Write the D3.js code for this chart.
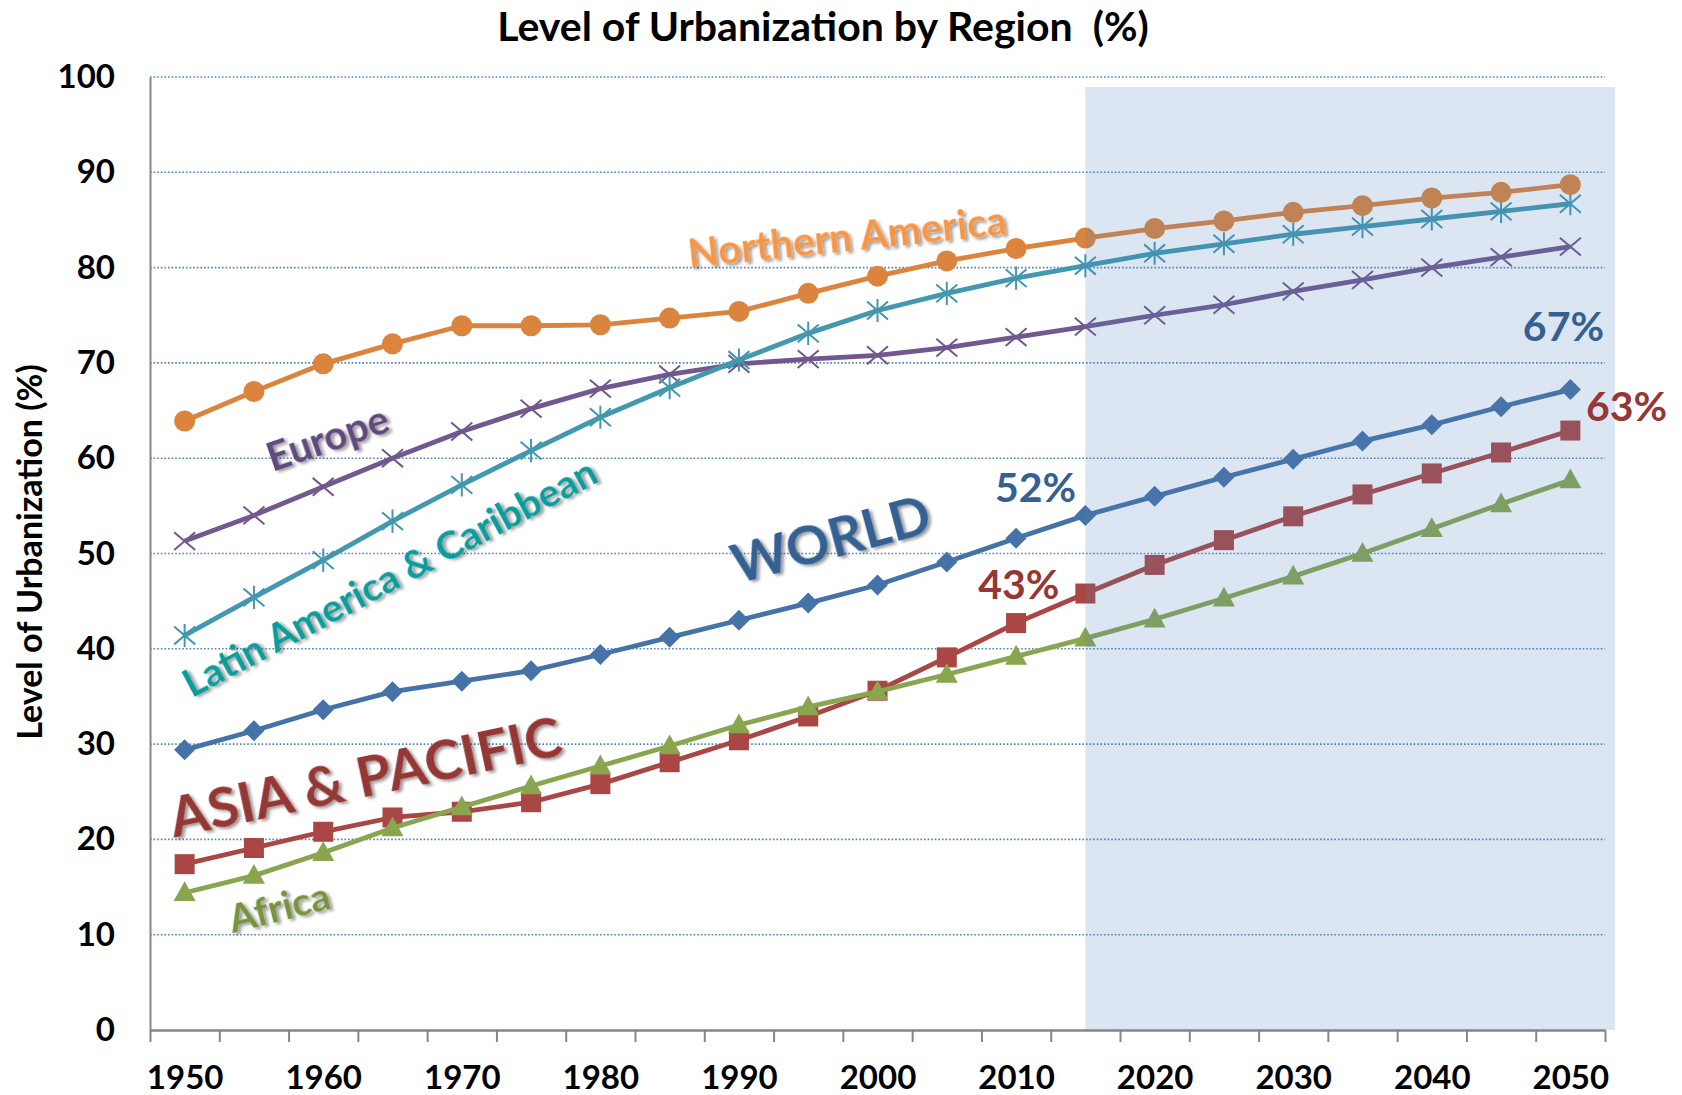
<!DOCTYPE html>
<html lang="en">
<head>
<meta charset="utf-8">
<title>Level of Urbanization by Region</title>
<script src="https://cdn.jsdelivr.net/npm/d3@7/dist/d3.min.js"></script>
<style>
  body { margin: 0; background: #fff; }
  text { font-family: Lato, "Open Sans", sans-serif; font-weight: bold; }
</style>
</head>
<body>
<script>
// categories and series (percent urban)
var years = [1950, 1955, 1960, 1965, 1970, 1975, 1980, 1985, 1990, 1995, 2000,
             2005, 2010, 2015, 2020, 2025, 2030, 2035, 2040, 2045, 2050];
var yearLabels = [1950, 1960, 1970, 1980, 1990, 2000, 2010, 2020, 2030, 2040, 2050];
var yTicks = [0, 10, 20, 30, 40, 50, 60, 70, 80, 90, 100];

var world   = [29.4, 31.4, 33.6, 35.5, 36.6, 37.7, 39.4, 41.2, 43.0, 44.8, 46.7,
               49.1, 51.6, 54.0, 56.0, 58.0, 59.9, 61.8, 63.5, 65.4, 67.2];
var asia    = [17.4, 19.1, 20.8, 22.3, 22.9, 23.9, 25.8, 28.1, 30.4, 32.9, 35.6,
               39.1, 42.7, 45.8, 48.8, 51.4, 53.9, 56.2, 58.4, 60.6, 62.9];
var africa  = [14.4, 16.2, 18.6, 21.2, 23.4, 25.6, 27.7, 29.8, 32.0, 33.9, 35.5,
               37.3, 39.2, 41.1, 43.1, 45.3, 47.6, 50.0, 52.6, 55.2, 57.7];
var europe  = [51.3, 54.0, 57.0, 60.0, 62.8, 65.2, 67.3, 68.8, 69.9, 70.4, 70.8,
               71.6, 72.7, 73.8, 75.0, 76.1, 77.5, 78.7, 80.0, 81.1, 82.2];
var latin   = [41.4, 45.4, 49.3, 53.4, 57.2, 60.8, 64.3, 67.4, 70.3, 73.1, 75.5,
               77.3, 78.9, 80.2, 81.5, 82.5, 83.5, 84.3, 85.1, 85.9, 86.7];
var northAm = [63.9, 67.0, 69.9, 72.0, 73.9, 73.9, 74.0, 74.7, 75.4, 77.3, 79.1,
               80.7, 82.0, 83.1, 84.1, 84.9, 85.8, 86.5, 87.3, 87.9, 88.7];

var w = 1682, h = 1095;
var plotLeft = 150, plotRight = 1605, plotTop = 77, plotBottom = 1030;

var svg = d3.select("body").append("svg")
    .attr("width", w).attr("height", h);

var defs = svg.append("defs");
defs.append("filter").attr("id", "shadow")
    .attr("x", "-10%").attr("y", "-30%").attr("width", "130%").attr("height", "160%")
  .append("feDropShadow")
    .attr("dx", 2.5).attr("dy", 2.5).attr("stdDeviation", 1.8)
    .attr("flood-color", "#000").attr("flood-opacity", 0.4);

// category axis: each year gets a 5-year slot, ticks between slots
var x = d3.scaleLinear().domain([1947.5, 2052.5]).range([plotLeft, plotRight]);
var y = d3.scaleLinear().domain([0, 100]).range([plotBottom, plotTop]);

// title
svg.append("text")
    .attr("x", 823).attr("y", 41)
    .attr("text-anchor", "middle")
    .style("font-size", "41px")
    .style("white-space", "pre")
    .text("Level of Urbanization by Region  (%)");

// y axis title
svg.append("text")
    .attr("transform", "translate(42,552) rotate(-90)")
    .attr("text-anchor", "middle")
    .style("font-size", "34px")
    .text("Level of Urbanization (%)");

// gridlines
svg.append("g").selectAll("line")
    .data(yTicks.filter(function(d) { return d > 0; }))
    .enter().append("line")
    .attr("x1", plotLeft).attr("x2", plotRight)
    .attr("y1", function(d) { return y(d); })
    .attr("y2", function(d) { return y(d); })
    .attr("stroke", "#4f81bd")
    .attr("stroke-width", 1.6)
    .attr("stroke-dasharray", "1.6,2");

// y axis
var yAxis = svg.append("g")
    .attr("transform", "translate(" + plotLeft + ",0)")
    .call(d3.axisLeft(y).tickValues(yTicks).tickSize(0).tickPadding(35));
yAxis.select(".domain").attr("stroke", "#868686").attr("stroke-width", 2);
yAxis.selectAll("text").style("font-size", "33px").attr("fill", "#000")
    .style("font-family", "Lato, sans-serif");

// x axis: tick marks at slot edges
var edges = years.map(function(d) { return d - 2.5; }).concat([2052.5]);
var xTickAxis = svg.append("g")
    .attr("transform", "translate(0," + plotBottom + ")")
    .call(d3.axisBottom(x).tickValues(edges).tickSize(12).tickSizeOuter(0).tickFormat(""));
xTickAxis.select(".domain").attr("stroke", "#868686").attr("stroke-width", 2.5);
xTickAxis.selectAll(".tick line").attr("stroke", "#868686").attr("stroke-width", 2);

var xLabelAxis = svg.append("g")
    .attr("transform", "translate(0," + plotBottom + ")")
    .call(d3.axisBottom(x).tickValues(yearLabels).tickSize(0).tickPadding(36)
          .tickFormat(d3.format("d")));
xLabelAxis.select(".domain").remove();
xLabelAxis.selectAll("text").style("font-size", "33px").attr("fill", "#000")
    .style("font-family", "Lato, sans-serif");

// markers
function diamond(s) {
  return "M0," + (-s) + "L" + s + ",0L0," + s + "L" + (-s) + ",0Z";
}
function square(s) {
  return "M" + (-s) + "," + (-s) + "H" + s + "V" + s + "H" + (-s) + "Z";
}
function triangle(s) {
  return "M0," + (-s * 1.05) + "L" + s + "," + (s * 0.75) + "L" + (-s) + "," + (s * 0.75) + "Z";
}
function cross(s) {
  return "M" + (-s) + "," + (-s * 0.85) + "L" + s + "," + (s * 0.85) +
         "M" + (-s) + "," + (s * 0.85) + "L" + s + "," + (-s * 0.85);
}
function star(s) {
  return cross(s) + "M0," + (-s * 1.1) + "L0," + (s * 1.1);
}

var series = [
  { name: "World",   values: world,   color: "#4572a7", marker: function() { return diamond(10.5); }, fill: true },
  { name: "Asia",    values: asia,    color: "#aa4643", marker: function() { return square(10); }, fill: true },
  { name: "Africa",  values: africa,  color: "#89a54e", marker: function() { return triangle(11); }, fill: true },
  { name: "Europe",  values: europe,  color: "#71588f", marker: function() { return cross(10.5); }, fill: false },
  { name: "Latin",   values: latin,   color: "#4198af", marker: function() { return star(10.5); }, fill: false },
  { name: "NorthAm", values: northAm, color: "#db843d", marker: null, fill: true }
];

var line = d3.line()
    .x(function(d, i) { return x(years[i]); })
    .y(function(d) { return y(d); });

series.forEach(function(s) {
  var g = svg.append("g");
  g.append("path")
      .attr("d", line(s.values))
      .attr("fill", "none")
      .attr("stroke", s.color)
      .attr("stroke-width", 4.8)
      .attr("stroke-linejoin", "round");
  var pts = g.selectAll(".pt").data(s.values).enter();
  if (s.marker === null) {
    pts.append("circle")
        .attr("cx", function(d, i) { return x(years[i]); })
        .attr("cy", function(d) { return y(d); })
        .attr("r", 10.5)
        .attr("fill", s.color);
  } else {
    pts.append("path")
        .attr("transform", function(d, i) { return "translate(" + x(years[i]) + "," + y(d) + ")"; })
        .attr("d", s.marker)
        .attr("fill", s.fill ? s.color : "none")
        .attr("stroke", s.color)
        .attr("stroke-width", s.fill ? 0 : 2);
  }
});

// projection period shading (drawn translucent over the lines)
svg.append("rect")
    .attr("x", x(2015)).attr("y", 87)
    .attr("width", 1615 - x(2015)).attr("height", plotBottom - 87)
    .attr("fill", "#4f81bd").attr("fill-opacity", 0.2);

// region labels
function label(text, yr, val, angle, size, color, shadow) {
  var t = svg.append("text")
      .attr("transform", "translate(" + x(yr) + "," + y(val) + ") rotate(" + angle + ")")
      .attr("text-anchor", "middle")
      .attr("dominant-baseline", "central")
      .attr("fill", color)
      .style("font-size", size + "px")
      .text(text);
  if (shadow) t.attr("filter", "url(#shadow)");
  return t;
}

label("Northern America", 1997.8, 83.3, -6, 40, "#f79646", true);
label("Europe", 1960.3, 62.2, -19, 40, "#604a7b", true);
label("Latin America & Caribbean", 1964.75, 47.6, -28, 39, "#0f9b9b", true);
label("WORLD", 1996.6, 51.7, -15, 54, "#366092", true);
label("ASIA & PACIFIC", 1963.0, 26.8, -12, 56, "#953735", true);
label("Africa", 1956.8, 13.0, -14, 39, "#77933c", true);

label("52%", 2011.4, 57.0, 0, 41, "#366092", false);
label("43%", 2010.2, 46.8, 0, 41, "#953735", false);
label("67%", 2049.5, 73.9, 0, 41, "#366092", false);
label("63%", 2054.05, 65.5, 0, 41, "#953735", false);
</script>
</body>
</html>
